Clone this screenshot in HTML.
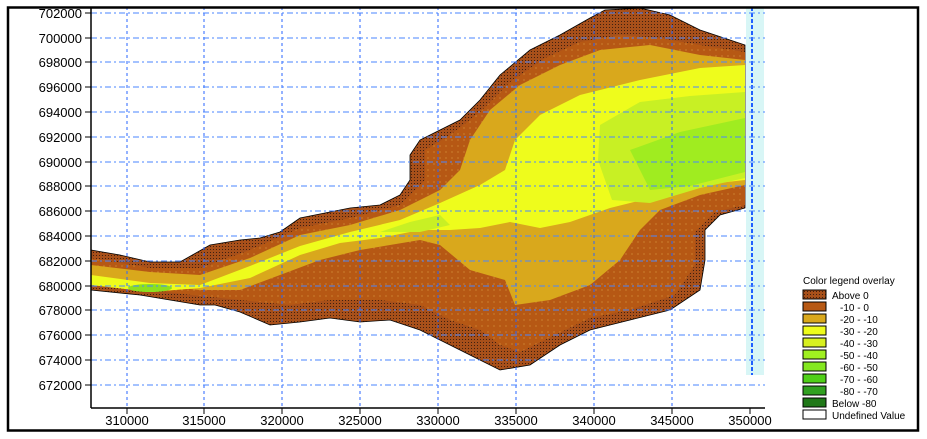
<!DOCTYPE html>
<html><head><meta charset="utf-8"><style>
body{margin:0;background:#fff;}
svg{display:block;font-family:"Liberation Sans",sans-serif;}
</style></head><body>
<svg width="927" height="439" viewBox="0 0 927 439" xmlns="http://www.w3.org/2000/svg">
<defs>
<pattern id="dots" width="6" height="6" patternUnits="userSpaceOnUse"><rect width="6" height="6" fill="#b65814"/><circle cx="2" cy="2" r="0.6" fill="#d89a40"/></pattern>
<pattern id="dark" width="3" height="3" patternUnits="userSpaceOnUse"><rect width="3" height="3" fill="#a8501a"/><rect width="1" height="1" fill="#402010"/></pattern>
</defs>
<rect x="0" y="0" width="927" height="439" fill="#fff"/>
<rect x="746" y="7" width="18" height="368" fill="#d8f6f6"/>
<line x1="752" y1="7" x2="752" y2="375" stroke="#2060ff" stroke-width="2" stroke-dasharray="4,2"/>
<polygon fill="url(#dark)" stroke="#000" stroke-width="0.8" points="91,250 120,255 150,262 180,262 210,245 240,240 260,238 280,232 300,218 330,212 350,208 380,205 400,195 410,180 410,155 420,140 440,130 460,120 480,100 500,75 530,50 560,35 590,18 605,10 640,8 670,15 700,30 730,40 745,45 745,208 720,215 705,230 705,260 700,290 670,310 630,320 590,330 560,345 530,365 500,370 480,360 450,345 420,330 390,320 360,322 330,318 300,322 270,325 240,312 215,305 200,305 170,300 140,295 110,292 91,290"/>
<polygon fill="url(#dots)" points="91,258 150,268 200,268 250,250 300,228 350,218 400,205 425,180 425,150 450,135 480,112 510,82 545,58 580,42 620,35 660,38 700,45 745,52 745,205 715,212 695,232 695,265 675,295 630,310 590,318 555,335 520,352 500,345 480,330 450,320 420,305 380,300 330,300 290,305 240,300 200,296 150,290 91,284"/>
<polygon fill="#d9a81c" points="91,265 150,272 200,275 250,258 300,235 350,225 400,210 440,190 460,170 470,140 490,110 520,85 560,65 600,50 650,45 700,55 745,60 745,185 700,195 660,210 640,230 620,260 590,285 550,300 515,305 505,280 470,270 440,245 420,240 360,250 320,260 280,275 240,290 200,290 150,285 91,280"/>
<polygon fill="#eefc1c" points="91,275 150,283 200,285 250,266 300,246 350,232 400,220 440,203 480,185 505,170 515,140 540,115 580,95 640,80 700,68 745,65 745,180 700,185 650,198 610,208 570,222 540,228 510,222 480,228 450,230 420,230 380,238 340,243 300,255 250,278 200,288 150,292 91,285"/>
<polygon fill="#c8f024" points="600,125 640,102 690,96 745,92 745,178 700,188 650,203 612,200 598,160"/>
<polygon fill="#a0ec20" points="630,150 680,132 745,118 745,172 690,186 650,190"/>
<polygon fill="#c8f024" points="380,232 410,222 440,215 450,225 420,232"/>
<ellipse cx="150" cy="288" rx="22" ry="4" fill="#8ce020"/>
<g stroke="#2a66ff" stroke-width="1" stroke-dasharray="3,3">
<line x1="127" y1="7" x2="127" y2="408"/><line x1="204" y1="7" x2="204" y2="408"/><line x1="282" y1="7" x2="282" y2="408"/><line x1="360" y1="7" x2="360" y2="408"/><line x1="438" y1="7" x2="438" y2="408"/><line x1="516" y1="7" x2="516" y2="408"/><line x1="594" y1="7" x2="594" y2="408"/><line x1="672" y1="7" x2="672" y2="408"/>
</g>
<g stroke="#4a86ff" stroke-width="1" stroke-dasharray="6,3,2,3">
<line x1="91" y1="13" x2="765" y2="13"/><line x1="91" y1="38" x2="765" y2="38"/><line x1="91" y1="62" x2="765" y2="62"/><line x1="91" y1="87" x2="765" y2="87"/><line x1="91" y1="112" x2="765" y2="112"/><line x1="91" y1="137" x2="765" y2="137"/><line x1="91" y1="162" x2="765" y2="162"/><line x1="91" y1="186" x2="765" y2="186"/><line x1="91" y1="211" x2="765" y2="211"/><line x1="91" y1="236" x2="765" y2="236"/><line x1="91" y1="261" x2="765" y2="261"/><line x1="91" y1="286" x2="765" y2="286"/><line x1="91" y1="310" x2="765" y2="310"/><line x1="91" y1="335" x2="765" y2="335"/><line x1="91" y1="360" x2="765" y2="360"/><line x1="91" y1="385" x2="765" y2="385"/>
</g>
<line x1="91" y1="7" x2="91" y2="408" stroke="#000" stroke-width="1.5"/>
<line x1="91" y1="408" x2="765" y2="408" stroke="#000" stroke-width="1.5"/>
<g stroke="#000" stroke-width="1">
<path d="M85,13H91M85,38H91M85,62H91M85,87H91M85,112H91M85,137H91M85,162H91M85,186H91M85,211H91M85,236H91M85,261H91M85,286H91M85,310H91M85,335H91M85,360H91M85,385H91"/>
<path d="M127,408V414M204,408V414M282,408V414M360,408V414M438,408V414M516,408V414M594,408V414M672,408V414M750,408V414"/>
</g>
<g font-size="13" fill="#000" text-anchor="end">
<text x="82" y="18">702000</text><text x="82" y="43">700000</text><text x="82" y="67">698000</text><text x="82" y="92">696000</text><text x="82" y="117">694000</text><text x="82" y="142">692000</text><text x="82" y="167">690000</text><text x="82" y="191">688000</text><text x="82" y="216">686000</text><text x="82" y="241">684000</text><text x="82" y="266">682000</text><text x="82" y="291">680000</text><text x="82" y="315">678000</text><text x="82" y="340">676000</text><text x="82" y="365">674000</text><text x="82" y="390">672000</text>
</g>
<g font-size="13" fill="#000" text-anchor="middle">
<text x="127" y="425">310000</text><text x="204" y="425">315000</text><text x="282" y="425">320000</text><text x="360" y="425">325000</text><text x="438" y="425">330000</text><text x="516" y="425">335000</text><text x="594" y="425">340000</text><text x="672" y="425">345000</text><text x="750" y="425">350000</text>
</g>
<rect x="8" y="7.5" width="910" height="423" fill="none" stroke="#000" stroke-width="2.5"/>
<g font-size="10" fill="#000">
<text x="803" y="284">Color legend overlay</text>
<g stroke="#000" stroke-width="1">
<rect x="803" y="290" width="23" height="9" fill="url(#dark)"/>
<rect x="803" y="302" width="23" height="9" fill="#b65814"/>
<rect x="803" y="314" width="23" height="9" fill="#d9a81c"/>
<rect x="803" y="326" width="23" height="9" fill="#eefc1c"/>
<rect x="803" y="338" width="23" height="9" fill="#d8f020"/>
<rect x="803" y="350" width="23" height="9" fill="#a0f020"/>
<rect x="803" y="362" width="23" height="9" fill="#84e820"/>
<rect x="803" y="374" width="23" height="9" fill="#50d018"/>
<rect x="803" y="386" width="23" height="9" fill="#30a020"/>
<rect x="803" y="398" width="23" height="9" fill="#207818"/>
<rect x="803" y="410" width="23" height="9" fill="#fff"/>
</g>
<text x="832" y="299">Above    0</text>
<text x="840" y="311">-10 -   0</text>
<text x="840" y="323">-20 - -10</text>
<text x="840" y="335">-30 - -20</text>
<text x="840" y="347">-40 - -30</text>
<text x="840" y="359">-50 - -40</text>
<text x="840" y="371">-60 - -50</text>
<text x="840" y="383">-70 - -60</text>
<text x="840" y="395">-80 - -70</text>
<text x="832" y="407">Below -80</text>
<text x="832" y="419">Undefined Value</text>
</g>
</svg>
</body></html>
